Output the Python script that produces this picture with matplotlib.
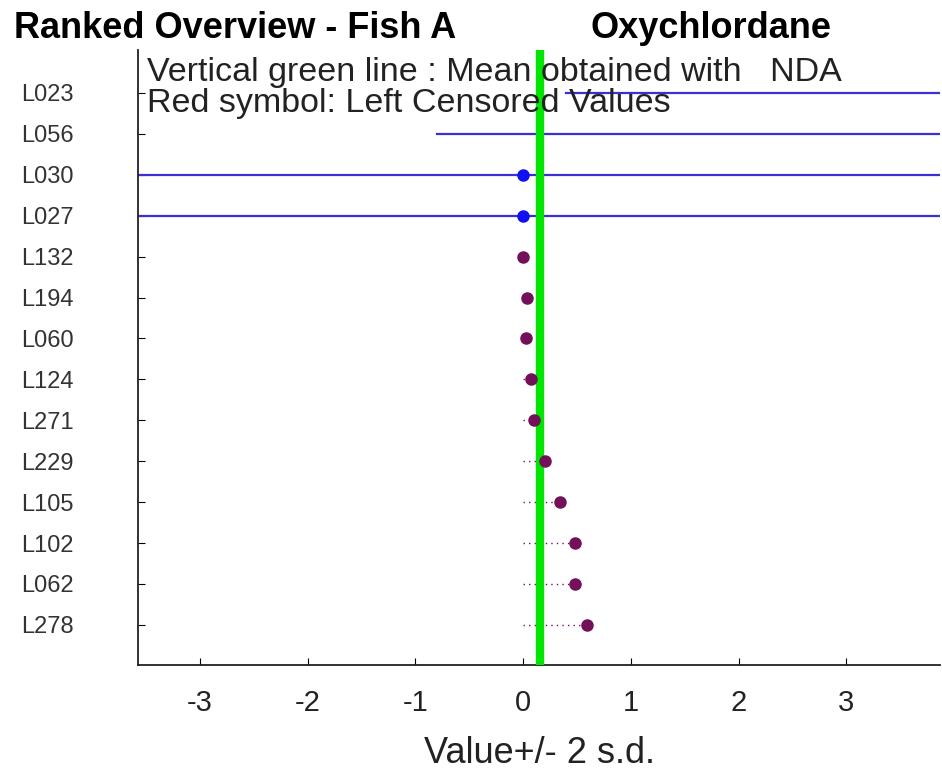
import matplotlib
matplotlib.use('Agg')
import matplotlib.pyplot as plt

plt.rcParams['font.family'] = ['Liberation Sans', 'DejaVu Sans']

# labs from top to bottom
labs = ['L023', 'L056', 'L030', 'L027', 'L132', 'L194', 'L060',
        'L124', 'L271', 'L229', 'L105', 'L102', 'L062', 'L278']
values = [5.4, 5.0, 0.0, 0.0, 0.0, 0.04, 0.03, 0.07, 0.1, 0.2, 0.34, 0.48, 0.48, 0.59]
# 2 s.d. half width (None = no error bar drawn)
err2sd = [5.0, 5.8, 4.6, 4.6, None, None, None, None, None, None, None, None, None, None]
censored = [False, False, False, False, True, True, True, True, True, True, True, True, True, True]
mean_nda = 0.16

W, H = 942, 771
fig = plt.figure(figsize=(W / 100, H / 100), dpi=100)
ax = fig.add_axes([138 / W, 1 - 665 / H, (940 - 138) / W, (665 - 50) / H])

n = len(labs)
ypos = list(range(n, 0, -1))

blue = '#3b30d4'
purple = '#74105a'

for y, v, e, c in zip(ypos, values, err2sd, censored):
    if e is not None:
        ax.plot([v - e, v + e], [y, y], color=blue, lw=1.6, zorder=2)
    if c:
        ax.plot([0, v], [y, y], color=purple, lw=1.0, ls=(0, (1, 3)), zorder=2)
        ax.plot(v, y, 'o', color=purple, ms=8, zorder=5)
    else:
        ax.plot(v, y, 'o', color='#1010f0', ms=8, zorder=5)

ax.axvline(mean_nda, color='#00e600', lw=6, zorder=3)

ax.set_xlim(-3.575, 3.87)
ax.set_ylim(0.02, 15.05)
ax.set_xticks([-3, -2, -1, 0, 1, 2, 3])
ax.set_xticklabels(['-3', '-2', '-1', '0', '1', '2', '3'])
ax.set_yticks(ypos)
ax.set_yticklabels(labs)
ax.tick_params(axis='x', direction='in', length=5, labelsize=21, pad=17,
               labelcolor='#222222')
ax.tick_params(axis='y', direction='in', length=5, labelsize=17, pad=84,
               labelcolor='#333333')
for t in ax.get_yticklabels():
    t.set_horizontalalignment('left')
for s in ['top', 'right']:
    ax.spines[s].set_visible(False)
for s in ['left', 'bottom']:
    ax.spines[s].set_linewidth(1.3)
    ax.spines[s].set_color('#222222')

fig.text(14 / W, 1 - 38 / H, 'Ranked Overview - Fish A', fontsize=26,
         fontweight='bold', va='baseline', ha='left')
fig.text(590 / W, 1 - 38 / H, 'Oxychlordane', fontsize=26,
         fontweight='bold', va='baseline', ha='left')
fig.text(147 / W, 1 - 81 / H, 'Vertical green line : Mean obtained with   NDA',
         fontsize=24.5, va='baseline', ha='left', color='#222222')
fig.text(147 / W, 1 - 112 / H, 'Red symbol: Left Censored Values',
         fontsize=24.5, va='baseline', ha='left', color='#222222')
fig.text(540 / W, 1 - 763 / H, 'Value+/- 2 s.d.', fontsize=26,
         va='baseline', ha='center', color='#222222')

fig.savefig('out.png', dpi=100)
